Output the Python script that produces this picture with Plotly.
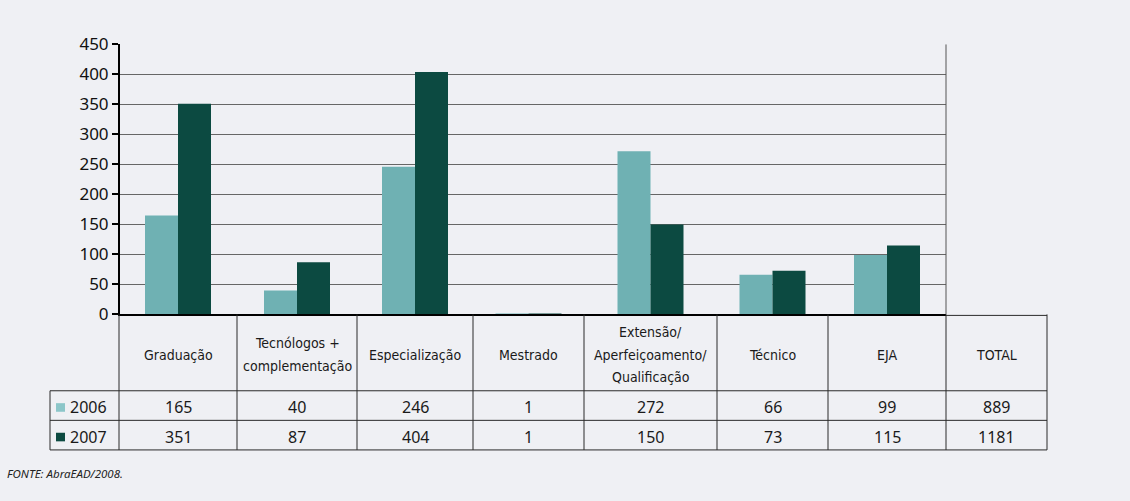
import plotly.graph_objects as go

# ---------------- data ----------------
categories = [
    "Graduação",
    "Tecnólogos +<br>complementação",
    "Especialização",
    "Mestrado",
    "Extensão/<br>Aperfeiçoamento/<br>Qualificação",
    "Técnico",
    "EJA",
]
series_names = ["2006", "2007"]
values_2006 = [165, 40, 246, 1, 272, 66, 99]
values_2007 = [351, 87, 404, 1, 150, 73, 115]
total_label = "TOTAL"
totals = [889, 1181]
y_ticks = [0, 50, 100, 150, 200, 250, 300, 350, 400, 450]
source_text = "FONTE: AbraEAD/2008."

# ---------------- layout constants (pixels) ----------------
W, H = 1130, 501
col_edges = [119, 237, 357, 473, 584, 717, 828, 946, 1047]
legend_left = 50
plot_left, plot_right = 120, 946
plot_top, plot_bottom = 34, 317
header_bottom, row_mid, table_bottom = 397, 428, 459
bar_w = 33

c2006 = "#6fb1b3"
c2007 = "#0c4a41"
bg = "#eff0f4"
line_col = "#2a2a2a"
narrow = "DejaVu Sans, sans-serif"
num_font = "Noto Sans, Open Sans, sans-serif"


def px(x):
    return x / W


def py(y):
    return 1 - y / H


centers = [(col_edges[i] + col_edges[i + 1]) / 2 for i in range(len(categories))]

fig = go.Figure()
fig.add_trace(go.Bar(x=centers, y=values_2006, name=series_names[0], width=bar_w,
                     offset=-bar_w, marker=dict(color=c2006, line=dict(width=0))))
fig.add_trace(go.Bar(x=centers, y=values_2007, name=series_names[1], width=bar_w,
                     offset=0, marker=dict(color=c2007, line=dict(width=0))))

shapes = []
annotations = []


def hline(y, x0, x1, w=1, c=line_col):
    shapes.append(dict(type="line", xref="paper", yref="paper", x0=px(x0), x1=px(x1),
                       y0=py(y), y1=py(y), line=dict(color=c, width=w)))


def vline(x, y0, y1, w=1, c=line_col):
    shapes.append(dict(type="line", xref="paper", yref="paper", x0=px(x), x1=px(x),
                       y0=py(y0), y1=py(y1), line=dict(color=c, width=w)))


# right border of plot
vline(plot_right, plot_top, plot_bottom, 1, "#555555")
# table lines
hline(plot_bottom + 1, plot_right, col_edges[-1])
for y in (header_bottom, row_mid, table_bottom):
    hline(y, legend_left, col_edges[-1])
vline(legend_left, header_bottom, table_bottom)
for x in col_edges:
    vline(x, plot_bottom, table_bottom)

# header labels
header_center = 359
line_h = 24
for i, lab in enumerate(categories + [total_label]):
    cx = (col_edges[i] + col_edges[i + 1]) / 2
    parts = lab.split("<br>")
    n = len(parts)
    for k, p in enumerate(parts):
        yy = header_center + (k - (n - 1) / 2) * line_h
        annotations.append(dict(x=px(cx), y=py(yy), xref="paper", yref="paper",
                                text='<span style="font-stretch:condensed">' + p + "</span>",
                                showarrow=False, xanchor="center", yanchor="middle",
                                font=dict(family=narrow, size=14, color="#1a1a1a")))

# numeric rows
rows = [values_2006 + [totals[0]], values_2007 + [totals[1]]]
row_centers = [(header_bottom + row_mid) / 2 + 2, (row_mid + table_bottom) / 2 + 2]
for r, vals in enumerate(rows):
    for i, v in enumerate(vals):
        cx = (col_edges[i] + col_edges[i + 1]) / 2
        annotations.append(dict(x=px(cx), y=py(row_centers[r]), xref="paper", yref="paper",
                                text=str(v), showarrow=False, xanchor="center", yanchor="middle",
                                font=dict(family=num_font, size=16, color="#1a1a1a")))

# legend column
leg_colors = ["#8cc6c9", c2007]
for r, name in enumerate(series_names):
    yc = row_centers[r]
    shapes.append(dict(type="rect", xref="paper", yref="paper", x0=px(56), x1=px(65),
                       y0=py(yc + 4.5), y1=py(yc - 4.5), fillcolor=leg_colors[r],
                       line=dict(width=0)))
    annotations.append(dict(x=px(68), y=py(yc), xref="paper", yref="paper", text=name,
                            showarrow=False, xanchor="left", yanchor="middle",
                            font=dict(family=num_font, size=16, color="#1a1a1a")))

# source
annotations.append(dict(x=px(5), y=py(484), xref="paper", yref="paper",
                        text="<i>" + source_text + "</i>", showarrow=False,
                        xanchor="left", yanchor="middle",
                        font=dict(family=num_font, size=11.5, color="#222222")))

fig.update_layout(
    width=W, height=H,
    margin=dict(l=0, r=0, t=0, b=0),
    paper_bgcolor=bg, plot_bgcolor=bg,
    showlegend=False,
    barmode="overlay",
    xaxis=dict(domain=[px(plot_left), px(plot_right)], range=[plot_left, plot_right],
               showticklabels=False, showgrid=False, zeroline=False,
               showline=True, linecolor="#000000", linewidth=2, ticks=""),
    yaxis=dict(domain=[py(plot_bottom), py(plot_top)], range=[0, 450],
               tickvals=y_ticks, ticktext=[str(v) for v in y_ticks],
               showgrid=True, gridcolor="#666666", gridwidth=1, zeroline=False,
               showline=True, linecolor="#000000", linewidth=2,
               ticks="outside", ticklen=6, tickwidth=2, tickcolor="#000000",
               tickfont=dict(family=num_font, size=17, color="#111111")),
    shapes=shapes,
    annotations=annotations,
)

fig.write_html("out.html")
